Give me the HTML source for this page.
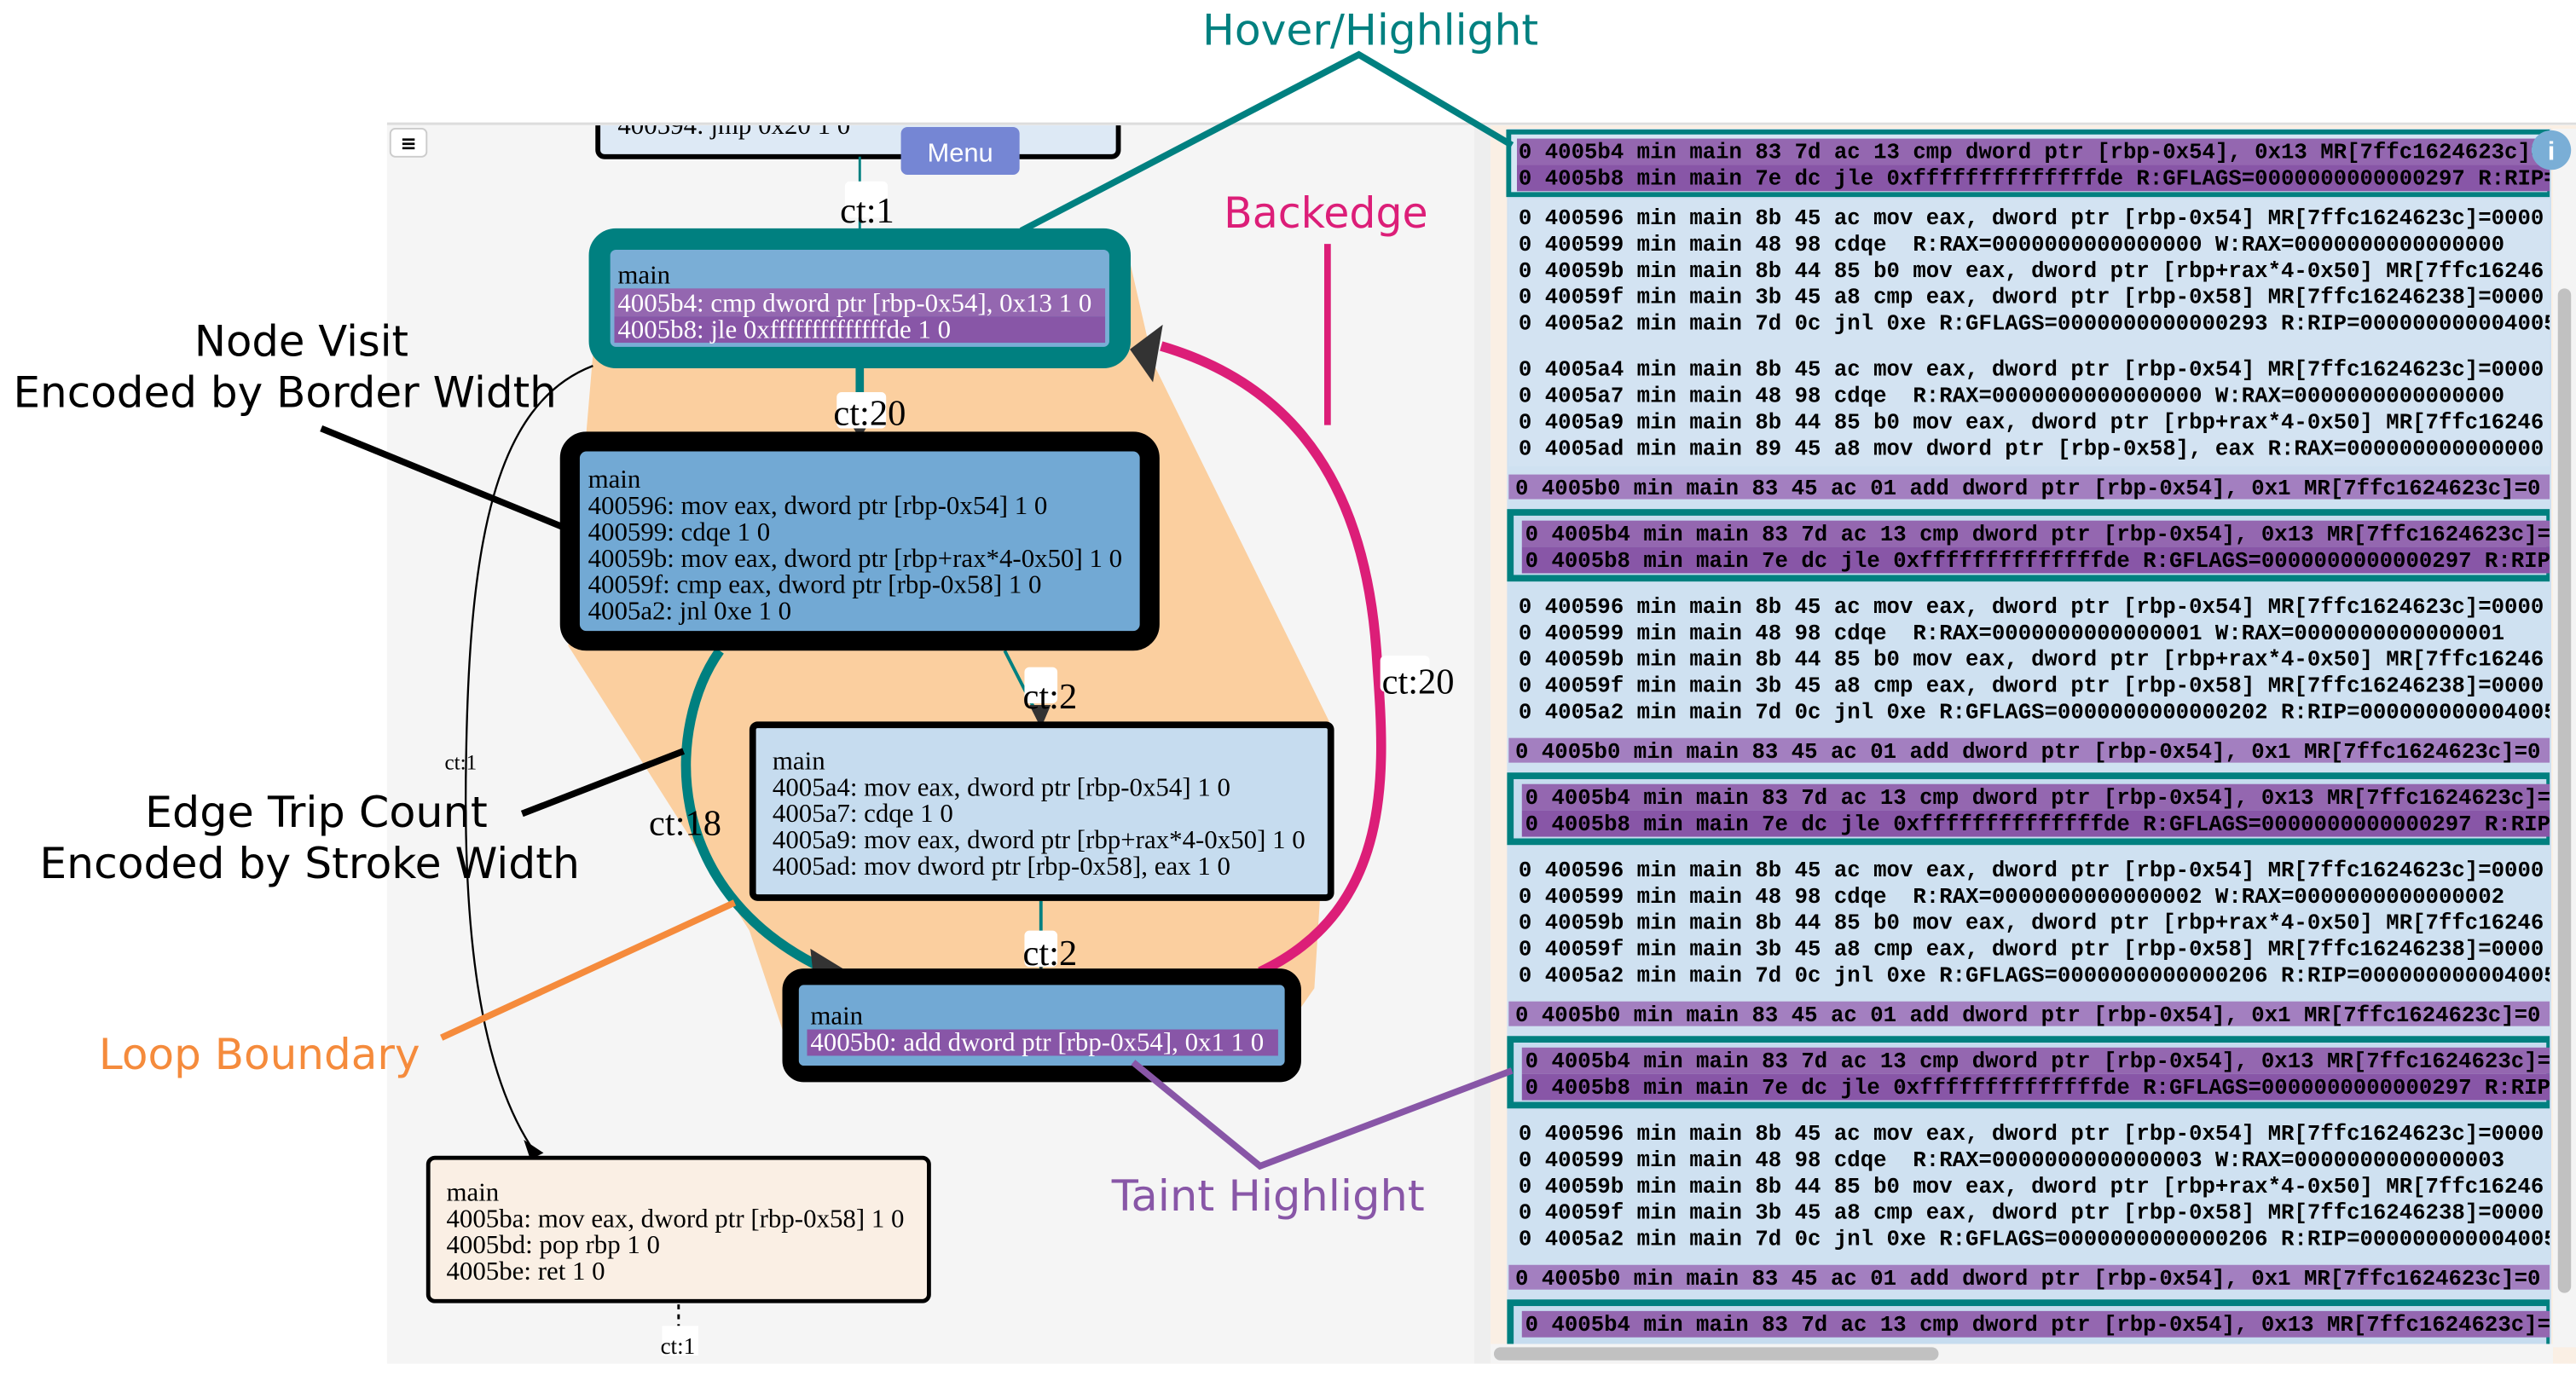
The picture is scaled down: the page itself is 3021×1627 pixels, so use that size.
<!DOCTYPE html>
<html><head><meta charset="utf-8"><style>
html,body{margin:0;padding:0;background:#fff;width:3021px;height:1627px;overflow:hidden}
svg{display:block}
.g{font-family:"Liberation Serif",serif;font-size:16px;fill:#000}
.w{fill:#fff}
.m{font-family:"Liberation Mono",monospace;font-size:13.3px;fill:#000;white-space:pre;font-weight:bold}
.a{font-family:"DejaVu Sans","Liberation Sans",sans-serif;font-size:26px}
.lbl{font-family:"Liberation Serif",serif;font-size:22px;fill:#000}
</style></head><body>
<svg width="3021" height="1627" viewBox="0 0 1564 842" xmlns="http://www.w3.org/2000/svg" xml:space="preserve">
<defs>
<clipPath id="lc"><rect x="235" y="76" width="660" height="752"/></clipPath>
<clipPath id="rc"><rect x="905" y="76" width="643" height="740"/></clipPath>
</defs>
<rect width="1564" height="842" fill="#fff"/>
<rect x="235" y="74" width="660" height="754" fill="#f5f5f5"/>
<line x1="235" y1="75" x2="1564" y2="75" stroke="#ddd" stroke-width="1.5"/>
<g clip-path="url(#lc)">
<polygon points="362,150 684,150 700,220 808,440 798,600 770,640 480,640 455,565 345,392 360,215" fill="#fbcf9f"/>
<rect x="363" y="55" width="316" height="40" rx="4" fill="#dde9f5" stroke="#000" stroke-width="3"/>
<text class="g" x="375" y="81">400594: jmp 0x20 1 0</text>
<line x1="522" y1="95" x2="522" y2="140" stroke="#008080" stroke-width="1.5"/>
<line x1="522" y1="222" x2="522" y2="262" stroke="#008080" stroke-width="5"/>
<polygon points="512,250 532,250 522,266" fill="#333"/>
<line x1="610" y1="395" x2="632" y2="438" stroke="#008080" stroke-width="2"/>
<polygon points="625,428 638,428 632,442" fill="#333"/>
<line x1="632" y1="547" x2="632" y2="588" stroke="#008080" stroke-width="2"/>
<polygon points="625,575 639,575 632,589" fill="#333"/>
<path d="M437,395 C405,440 400,540 500,588" fill="none" stroke="#008080" stroke-width="6"/>
<polygon points="492,576 515,590 494,594" fill="#333"/>
<path d="M765,590 C850,550 840,460 836,400 C830,300 790,235 705,210" fill="none" stroke="#dc1e78" stroke-width="6"/>
<polygon points="686,212 706,197 700,232" fill="#333"/>
<path d="M360,222 C300,245 285,330 283,460 C281,560 290,650 325,700" fill="none" stroke="#000" stroke-width="1.2"/>
<polygon points="318,692 330,700 322,704" fill="#000"/>
<line x1="412" y1="792" x2="412" y2="808" stroke="#000" stroke-width="1.5" stroke-dasharray="3,3"/>
<rect x="513" y="110" width="26" height="22" rx="3" fill="#fff"/>
<text class="lbl" x="510" y="135">ct:1</text>
<rect x="508" y="238" width="30" height="22" rx="3" fill="#fff"/>
<text class="lbl" x="506" y="258">ct:20</text>
<rect x="622" y="405" width="20" height="22" rx="3" fill="#fff"/>
<text class="lbl" x="621" y="430">ct:2</text>
<rect x="622" y="565" width="20" height="22" rx="3" fill="#fff"/>
<text class="lbl" x="621" y="586">ct:2</text>
<text class="lbl" x="394" y="507">ct:18</text>
<rect x="838" y="398" width="30" height="22" rx="3" fill="#fff"/>
<text class="lbl" x="839" y="421">ct:20</text>
<text class="g" x="270" y="467" style="font-size:13px">ct:1</text>
<rect x="402" y="805" width="22" height="18" fill="#fff"/>
<text class="g" x="401" y="822" style="font-size:14px">ct:1</text>
<rect x="364" y="145" width="316" height="72" rx="10" fill="#7aaed6" stroke="#008080" stroke-width="13"/>
<text class="g" x="375" y="172">main</text>
<rect x="373" y="175" width="298" height="17" fill="#9467b0"/>
<rect x="373" y="192" width="298" height="16" fill="#8856a7"/>
<text class="g w" x="375" y="189">4005b4: cmp dword ptr [rbp-0x54], 0x13 1 0</text>
<text class="g w" x="375" y="205">4005b8: jle 0xffffffffffffffde 1 0</text>
<rect x="346" y="268" width="352" height="121" rx="10" fill="#72a9d4" stroke="#000" stroke-width="12"/>
<text class="g" x="357" y="296">main</text>
<text class="g" x="357" y="312">400596: mov eax, dword ptr [rbp-0x54] 1 0</text>
<text class="g" x="357" y="328">400599: cdqe 1 0</text>
<text class="g" x="357" y="344">40059b: mov eax, dword ptr [rbp+rax*4-0x50] 1 0</text>
<text class="g" x="357" y="360">40059f: cmp eax, dword ptr [rbp-0x58] 1 0</text>
<text class="g" x="357" y="376">4005a2: jnl 0xe 1 0</text>
<rect x="457" y="440" width="351" height="105" rx="3" fill="#c6dcef" stroke="#000" stroke-width="4"/>
<text class="g" x="469" y="467">main</text>
<text class="g" x="469" y="483">4005a4: mov eax, dword ptr [rbp-0x54] 1 0</text>
<text class="g" x="469" y="499">4005a7: cdqe 1 0</text>
<text class="g" x="469" y="515">4005a9: mov eax, dword ptr [rbp+rax*4-0x50] 1 0</text>
<text class="g" x="469" y="531">4005ad: mov dword ptr [rbp-0x58], eax 1 0</text>
<rect x="480" y="593" width="305" height="59" rx="8" fill="#72a9d4" stroke="#000" stroke-width="10"/>
<text class="g" x="492" y="622">main</text>
<rect x="490" y="625" width="286" height="16" fill="#8856a7"/>
<text class="g w" x="492" y="638">4005b0: add dword ptr [rbp-0x54], 0x1 1 0</text>
<rect x="260" y="703" width="304" height="87" rx="4" fill="#faefe4" stroke="#000" stroke-width="2.5"/>
<text class="g" x="271" y="729">main</text>
<text class="g" x="271" y="745">4005ba: mov eax, dword ptr [rbp-0x58] 1 0</text>
<text class="g" x="271" y="761">4005bd: pop rbp 1 0</text>
<text class="g" x="271" y="777">4005be: ret 1 0</text>
</g>
<rect x="237" y="78" width="22" height="17" rx="3" fill="#fff" stroke="#ccc"/>
<text x="248" y="91" text-anchor="middle" style="font-family:'DejaVu Sans',sans-serif;font-size:12px;font-weight:bold">≡</text>
<rect x="547" y="77" width="72" height="29" rx="4" fill="#7586d4"/>
<text x="583" y="98" text-anchor="middle" fill="#fff" style="font-family:'Liberation Sans',sans-serif;font-size:16px">Menu</text>
<rect x="895" y="76" width="10" height="752" fill="#eee"/>
<rect x="905" y="76" width="659" height="752" fill="#faefe4"/>
<rect x="915" y="78" width="634" height="740" fill="#cfe1f1"/>
<g clip-path="url(#rc)">
<rect x="916" y="80" width="632" height="38" fill="#d6e6f4" stroke="#008080" stroke-width="3"/>
<rect x="921" y="84" width="630" height="16" fill="#9467b0"/><rect x="921" y="100" width="630" height="16" fill="#8856a7"/>
<text class="m w" x="922" y="96">0 4005b4 min main 83 7d ac 13 cmp dword ptr [rbp-0x54], 0x13 MR[7ffc1624623c]=0000</text>
<text class="m w" x="922" y="112">0 4005b8 min main 7e dc jle 0xffffffffffffffde R:GFLAGS=0000000000000297 R:RIP=0000</text>
<rect x="916" y="121" width="632" height="162" fill="#d3e3f2"/>
<text class="m" x="922" y="136">0 400596 min main 8b 45 ac mov eax, dword ptr [rbp-0x54] MR[7ffc1624623c]=0000</text>
<text class="m" x="922" y="152">0 400599 min main 48 98 cdqe  R:RAX=0000000000000000 W:RAX=0000000000000000</text>
<text class="m" x="922" y="168">0 40059b min main 8b 44 85 b0 mov eax, dword ptr [rbp+rax*4-0x50] MR[7ffc16246</text>
<text class="m" x="922" y="184">0 40059f min main 3b 45 a8 cmp eax, dword ptr [rbp-0x58] MR[7ffc16246238]=0000</text>
<text class="m" x="922" y="200">0 4005a2 min main 7d 0c jnl 0xe R:GFLAGS=0000000000000293 R:RIP=000000000004005</text>
<text class="m" x="922" y="228">0 4005a4 min main 8b 45 ac mov eax, dword ptr [rbp-0x54] MR[7ffc1624623c]=0000</text>
<text class="m" x="922" y="244">0 4005a7 min main 48 98 cdqe  R:RAX=0000000000000000 W:RAX=0000000000000000</text>
<text class="m" x="922" y="260">0 4005a9 min main 8b 44 85 b0 mov eax, dword ptr [rbp+rax*4-0x50] MR[7ffc16246</text>
<text class="m" x="922" y="276">0 4005ad min main 89 45 a8 mov dword ptr [rbp-0x58], eax R:RAX=000000000000000</text>
<rect x="916" y="288" width="632" height="15" fill="#a37fc0"/>
<text class="m w" x="920" y="300">0 4005b0 min main 83 45 ac 01 add dword ptr [rbp-0x54], 0x1 MR[7ffc1624623c]=0</text>
<rect x="917" y="311" width="631" height="40" fill="#c6dcef" stroke="#008080" stroke-width="4"/>
<rect x="924" y="316" width="626" height="16" fill="#9467b0"/><rect x="924" y="332" width="626" height="16" fill="#8856a7"/>
<text class="m w" x="926" y="328">0 4005b4 min main 83 7d ac 13 cmp dword ptr [rbp-0x54], 0x13 MR[7ffc1624623c]=0000</text>
<text class="m w" x="926" y="344">0 4005b8 min main 7e dc jle 0xffffffffffffffde R:GFLAGS=0000000000000297 R:RIP=0000</text>
<text class="m" x="922" y="372">0 400596 min main 8b 45 ac mov eax, dword ptr [rbp-0x54] MR[7ffc1624623c]=0000</text>
<text class="m" x="922" y="388">0 400599 min main 48 98 cdqe  R:RAX=0000000000000001 W:RAX=0000000000000001</text>
<text class="m" x="922" y="404">0 40059b min main 8b 44 85 b0 mov eax, dword ptr [rbp+rax*4-0x50] MR[7ffc16246</text>
<text class="m" x="922" y="420">0 40059f min main 3b 45 a8 cmp eax, dword ptr [rbp-0x58] MR[7ffc16246238]=0000</text>
<text class="m" x="922" y="436">0 4005a2 min main 7d 0c jnl 0xe R:GFLAGS=0000000000000202 R:RIP=000000000004005</text>
<rect x="916" y="448" width="632" height="15" fill="#a37fc0"/>
<text class="m w" x="920" y="460">0 4005b0 min main 83 45 ac 01 add dword ptr [rbp-0x54], 0x1 MR[7ffc1624623c]=0</text>
<rect x="917" y="471" width="631" height="40" fill="#c6dcef" stroke="#008080" stroke-width="4"/>
<rect x="924" y="476" width="626" height="16" fill="#9467b0"/><rect x="924" y="492" width="626" height="16" fill="#8856a7"/>
<text class="m w" x="926" y="488">0 4005b4 min main 83 7d ac 13 cmp dword ptr [rbp-0x54], 0x13 MR[7ffc1624623c]=0000</text>
<text class="m w" x="926" y="504">0 4005b8 min main 7e dc jle 0xffffffffffffffde R:GFLAGS=0000000000000297 R:RIP=0000</text>
<text class="m" x="922" y="532">0 400596 min main 8b 45 ac mov eax, dword ptr [rbp-0x54] MR[7ffc1624623c]=0000</text>
<text class="m" x="922" y="548">0 400599 min main 48 98 cdqe  R:RAX=0000000000000002 W:RAX=0000000000000002</text>
<text class="m" x="922" y="564">0 40059b min main 8b 44 85 b0 mov eax, dword ptr [rbp+rax*4-0x50] MR[7ffc16246</text>
<text class="m" x="922" y="580">0 40059f min main 3b 45 a8 cmp eax, dword ptr [rbp-0x58] MR[7ffc16246238]=0000</text>
<text class="m" x="922" y="596">0 4005a2 min main 7d 0c jnl 0xe R:GFLAGS=0000000000000206 R:RIP=000000000004005</text>
<rect x="916" y="608" width="632" height="15" fill="#a37fc0"/>
<text class="m w" x="920" y="620">0 4005b0 min main 83 45 ac 01 add dword ptr [rbp-0x54], 0x1 MR[7ffc1624623c]=0</text>
<rect x="917" y="631" width="631" height="40" fill="#c6dcef" stroke="#008080" stroke-width="4"/>
<rect x="924" y="636" width="626" height="16" fill="#9467b0"/><rect x="924" y="652" width="626" height="16" fill="#8856a7"/>
<text class="m w" x="926" y="648">0 4005b4 min main 83 7d ac 13 cmp dword ptr [rbp-0x54], 0x13 MR[7ffc1624623c]=0000</text>
<text class="m w" x="926" y="664">0 4005b8 min main 7e dc jle 0xffffffffffffffde R:GFLAGS=0000000000000297 R:RIP=0000</text>
<text class="m" x="922" y="692">0 400596 min main 8b 45 ac mov eax, dword ptr [rbp-0x54] MR[7ffc1624623c]=0000</text>
<text class="m" x="922" y="708">0 400599 min main 48 98 cdqe  R:RAX=0000000000000003 W:RAX=0000000000000003</text>
<text class="m" x="922" y="724">0 40059b min main 8b 44 85 b0 mov eax, dword ptr [rbp+rax*4-0x50] MR[7ffc16246</text>
<text class="m" x="922" y="740">0 40059f min main 3b 45 a8 cmp eax, dword ptr [rbp-0x58] MR[7ffc16246238]=0000</text>
<text class="m" x="922" y="756">0 4005a2 min main 7d 0c jnl 0xe R:GFLAGS=0000000000000206 R:RIP=000000000004005</text>
<rect x="916" y="768" width="632" height="15" fill="#a37fc0"/>
<text class="m w" x="920" y="780">0 4005b0 min main 83 45 ac 01 add dword ptr [rbp-0x54], 0x1 MR[7ffc1624623c]=0</text>
<rect x="917" y="791" width="631" height="40" fill="#c6dcef" stroke="#008080" stroke-width="4"/>
<rect x="924" y="796" width="626" height="16" fill="#9467b0"/>
<text class="m w" x="926" y="808">0 4005b4 min main 83 7d ac 13 cmp dword ptr [rbp-0x54], 0x13 MR[7ffc1624623c]=0000</text>
</g>
<rect x="1550" y="78" width="14" height="740" fill="#f4f4f4"/>
<rect x="1553" y="175" width="8" height="610" rx="4" fill="#c1c1c1"/>
<rect x="905" y="816" width="645" height="12" fill="#f4f4f4"/>
<rect x="907" y="818" width="270" height="8" rx="4" fill="#c1c1c1"/>
<circle cx="1549" cy="91" r="12" fill="#7aaed6"/>
<text x="1549" y="97" text-anchor="middle" fill="#fff" style="font-family:'Liberation Sans',sans-serif;font-size:16px;font-weight:bold">i</text>
<g stroke-width="4" fill="none">
<polyline points="620,140 825,33 918,88" stroke="#008080"/>
<line x1="806" y1="148" x2="806" y2="258" stroke="#dc1e78"/>
<line x1="195" y1="260" x2="342" y2="320" stroke="#000"/>
<line x1="317" y1="494" x2="415" y2="456" stroke="#000"/>
<line x1="268" y1="630" x2="446" y2="548" stroke="#f58b3c"/>
<polyline points="688,645 765,708 918,650" stroke="#8856a7"/>
</g>
<text class="a" x="730" y="27" fill="#008080" textLength="204" lengthAdjust="spacingAndGlyphs">Hover/Highlight</text>
<text class="a" x="743" y="138" fill="#dc1e78" textLength="124" lengthAdjust="spacingAndGlyphs">Backedge</text>
<text class="a" x="118" y="216" fill="#000" textLength="130" lengthAdjust="spacingAndGlyphs">Node Visit</text>
<text class="a" x="8" y="247" fill="#000" textLength="330" lengthAdjust="spacingAndGlyphs">Encoded by Border Width</text>
<text class="a" x="88" y="502" fill="#000" textLength="208" lengthAdjust="spacingAndGlyphs">Edge Trip Count</text>
<text class="a" x="24" y="533" fill="#000" textLength="328" lengthAdjust="spacingAndGlyphs">Encoded by Stroke Width</text>
<text class="a" x="60" y="649" fill="#f58b3c" textLength="195" lengthAdjust="spacingAndGlyphs">Loop Boundary</text>
<text class="a" x="675" y="735" fill="#8856a7" textLength="190" lengthAdjust="spacingAndGlyphs">Taint Highlight</text>
</svg>
</body></html>
